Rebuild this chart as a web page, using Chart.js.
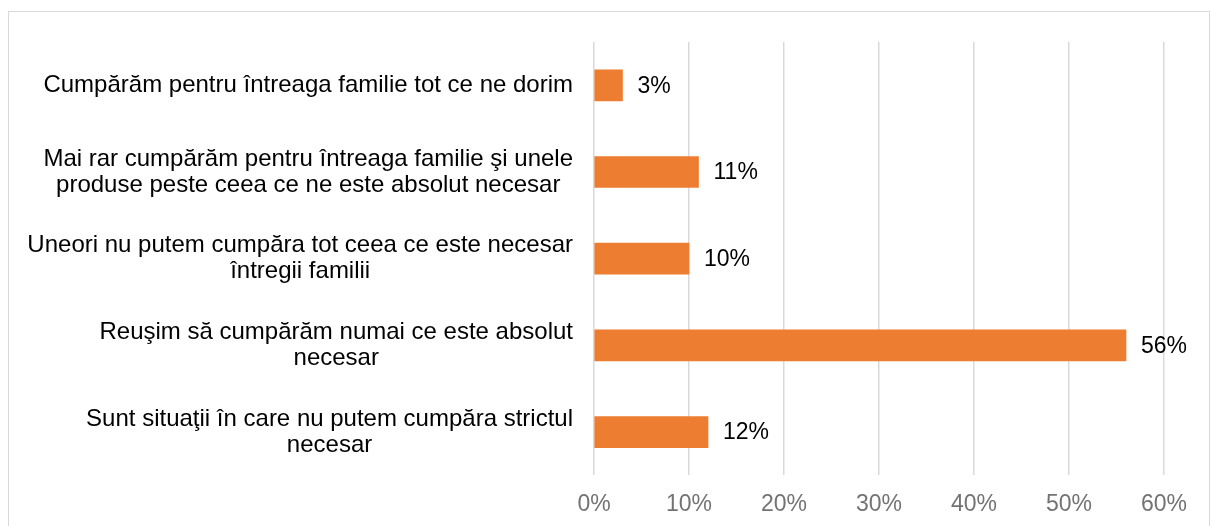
<!DOCTYPE html>
<html>
<head>
<meta charset="utf-8">
<script src="https://cdn.jsdelivr.net/npm/chart.js@4/dist/chart.umd.min.js"></script>
<style>
  html, body { margin: 0; padding: 0; background: #fff; overflow: hidden; }
  #frame { position: absolute; left: 8px; top: 11px; width: 1200px; height: 540px; border: 1px solid #d9d9d9; }
  #wrap { position: absolute; left: 0; top: 0; width: 1211px; height: 540px; }
</style>
</head>
<body>
<div id="frame"></div>
<div id="wrap"><canvas id="chart" width="1211" height="540"></canvas></div>
<script>
var categories = [
  ["Cumpărăm pentru întreaga familie tot ce ne dorim"],
  ["Mai rar cumpărăm pentru întreaga familie şi unele", "produse peste ceea ce ne este absolut necesar"],
  ["Uneori nu putem cumpăra tot ceea ce este necesar", "întregii familii"],
  ["Reuşim să cumpărăm numai ce este absolut", "necesar"],
  ["Sunt situaţii în care nu putem cumpăra strictul", "necesar"]
];
var values = [3, 11, 10, 56, 12];
var xTicks = [0, 10, 20, 30, 40, 50, 60];

var FONT = "'Liberation Sans', Arial, sans-serif";

// category labels: block right aligned, lines centred inside the block
var catLabels = {
  id: 'catLabels',
  afterDraw: function (chart) {
    var ctx = chart.ctx, y = chart.scales.y, right = chart.chartArea.left - 21;
    ctx.save();
    ctx.font = '24px ' + FONT;
    ctx.fillStyle = '#000';
    ctx.textAlign = 'center';
    ctx.textBaseline = 'middle';
    categories.forEach(function (lines, i) {
      var w = 0;
      lines.forEach(function (l) { w = Math.max(w, ctx.measureText(l).width); });
      var cx = right - w / 2, cy = y.getPixelForValue(i), lh = 26;
      var top = cy - (lines.length - 1) * lh / 2;
      lines.forEach(function (l, k) { ctx.fillText(l, cx, top + k * lh); });
    });
    ctx.restore();
  }
};

var valueLabels = {
  id: 'valueLabels',
  afterDatasetsDraw: function (chart) {
    var ctx = chart.ctx, meta = chart.getDatasetMeta(0);
    ctx.save();
    ctx.font = '23px ' + FONT;
    ctx.fillStyle = '#000';
    ctx.textAlign = 'left';
    ctx.textBaseline = 'middle';
    meta.data.forEach(function (bar, i) {
      ctx.fillText(values[i] + '%', bar.x + 15, bar.y + 1);
    });
    ctx.restore();
  }
};

new Chart(document.getElementById('chart'), {
  type: 'bar',
  data: {
    labels: categories.map(function (c) { return c.join(' '); }),
    datasets: [{
      data: values,
      backgroundColor: '#ED7D31',
      barThickness: 31,
      borderWidth: 0
    }]
  },
  options: {
    indexAxis: 'y',
    responsive: false,
    animation: false,
    devicePixelRatio: 1,
    layout: { padding: { left: 9, top: 42, right: 47, bottom: 7 } },
    plugins: { legend: { display: false }, tooltip: { enabled: false } },
    scales: {
      x: {
        min: 0, max: 60,
        afterBuildTicks: function (s) { s.ticks = xTicks.map(function (v) { return { value: v }; }); },
        grid: { color: '#d9d9d9', lineWidth: 1.5, drawTicks: false },
        border: { display: false },
        ticks: {
          padding: 15,
          color: '#737373',
          font: { family: FONT, size: 23 },
          callback: function (v) { return v + '%'; }
        }
      },
      y: {
        grid: { display: false },
        border: { display: false },
        ticks: { display: false },
        afterFit: function (s) { s.width = 585; }
      }
    }
  },
  plugins: [catLabels, valueLabels]
});
</script>
</body>
</html>
